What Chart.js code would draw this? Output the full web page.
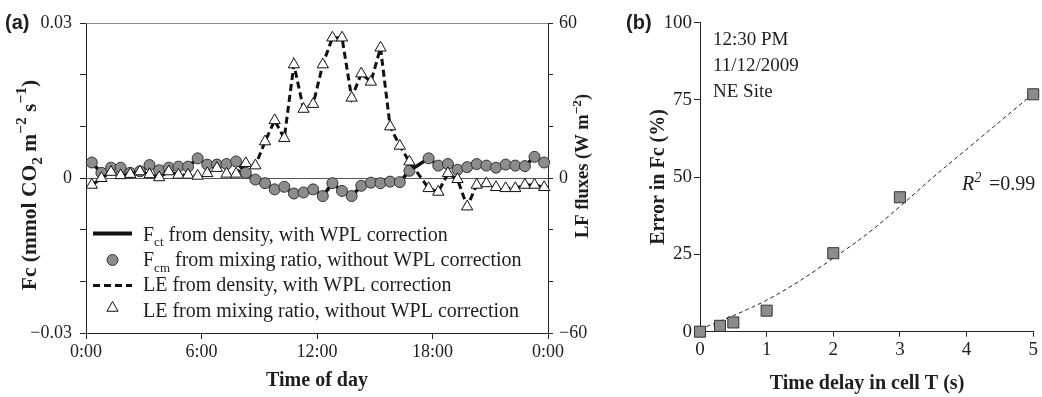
<!DOCTYPE html>
<html><head><meta charset="utf-8">
<script src="https://cdn.jsdelivr.net/npm/chart.js@4.4.0/dist/chart.umd.min.js"></script>
<style>
html,body{margin:0;padding:0;background:#fff;}
#wrap{position:relative;width:1042px;height:397px;overflow:hidden;background:#fff;}
canvas{position:absolute;top:0;}
#ca{left:0;} #cb{left:600px;}
</style></head><body>
<div id="wrap"><canvas id="ca" width="600" height="397"></canvas><canvas id="cb" width="442" height="397"></canvas></div>
<script>
// ---------- Panel (a) data ----------
const hours = [0.3,0.8,1.3,1.8,2.3,2.8,3.3,3.8,4.3,4.8,5.3,5.8,6.3,6.8,7.3,7.8,8.3,8.8,9.3,9.8,10.3,10.8,11.3,11.8,
               12.3,12.8,13.3,13.8,14.3,14.8,15.3,15.8,16.3,16.8,17.3,17.8,18.3,18.8,19.3,19.8,20.3,20.8,21.3,21.8,22.3,22.8,23.3,23.8];
const fcDensity = [0.0030,0.0010,0.0020,0.0020,0.0010,0.0013,0.0025,0.0015,0.0020,0.0022,0.0022,0.0038,
                   0.0026,0.0026,0.0027,0.0032,0.0010,-0.0003,-0.0010,-0.0022,-0.0017,-0.0030,-0.0028,-0.0022,
                   -0.0035,-0.0010,-0.0025,-0.0035,-0.0015,-0.0009,-0.0010,-0.0007,-0.0008,0.0014,null,0.0038,
                   0.0024,0.0027,0.0016,0.0021,0.0027,0.0024,0.0020,0.0026,0.0024,0.0023,0.0041,0.0030];
const fcMixing = [0.0030,0.0010,0.0020,0.0020,0.0010,0.0013,0.0025,0.0015,0.0020,0.0022,0.0022,0.0038,
                  0.0026,0.0026,0.0027,0.0032,0.0010,-0.0003,-0.0010,-0.0022,-0.0017,-0.0030,-0.0028,-0.0022,
                  -0.0035,-0.0010,-0.0025,-0.0035,-0.0015,-0.0009,-0.0010,-0.0007,-0.0008,0.0014,null,0.0038,
                  0.0024,0.0027,0.0016,0.0021,0.0027,0.0024,0.0020,0.0026,0.0024,0.0023,0.0041,0.0030];
const leDensity = [-2.7,-0.1,2.3,1.0,1.5,2.5,1.4,0.2,2.5,1.2,1.2,0.8,
                   1.8,3.8,1.6,1.6,5.7,4.8,14.1,22.3,15.4,43.9,26.7,28.6,
                   43.9,54.3,54.3,31.0,40.4,37.2,50.4,19.9,12.4,6.3,null,-4.0,
                   -5.4,1.8,-0.5,-11.1,-2.7,-2.1,-3.6,-4.0,-4.0,-2.7,-2.7,-3.6];
const leMixing = [-2.7,-0.1,2.3,1.0,1.5,2.5,1.4,0.2,2.5,1.2,1.2,0.8,
                  1.8,3.8,1.6,1.6,5.7,4.8,14.1,22.3,15.4,43.9,26.7,28.6,
                  43.9,54.3,54.3,31.0,40.4,37.2,50.4,19.9,12.4,6.3,null,-4.0,
                  -5.4,1.8,-0.5,-11.1,-2.7,-2.1,-3.6,-4.0,-4.0,-2.7,-2.7,-3.6];
const xTickValuesA = [0,6,12,18,24];
const xTickLabelsA = ['0:00','6:00','12:00','18:00','0:00'];
const yLeftTickValues = [-0.03,0,0.03];
const yLeftTickLabels = ['\u22120.03','0','0.03'];
const yRightTickValues = [-60,0,60];
const yRightTickLabels = ['\u221260','0','60'];

// ---------- Panel (b) data ----------
const delaySec = [0,0.3,0.5,1,2,3,5];
const errorPct = [0,1.9,3.0,6.8,25.4,43.5,76.8];
const fitSec = [0,0.5,1,1.5,2,2.5,3,3.5,4,4.5,5];
const fitPct = [0.8,5.2,10.2,16.5,23.8,31.5,40.5,50,59,68,77];
const yTickValuesB = [0,25,50,75,100];
const xTickValuesB = [0,1,2,3,4,5];

const SERIF = '"Liberation Serif","Times New Roman",serif';
const SANS = '"Liberation Sans",Arial,sans-serif';
const TXT = '#1e1e1e';

function pairs(xs, ys){ return xs.map((x,i)=>({x:x, y:ys[i]})); }
function near(v, arr){ return arr.findIndex(a=>Math.abs(a-v)<1e-9); }

function richWidth(ctx, parts, size, style, sc){
  let w=0;
  for(const p of parts){ const s=p[1]?size*sc:size; ctx.font=`${style} ${s}px ${SERIF}`; w+=ctx.measureText(p[0]).width; }
  return w;
}
function drawRich(ctx, parts, x, y, size, style, align, sc){
  sc = sc || 0.65;
  const w=richWidth(ctx, parts, size, style, sc);
  let cx = align==='center' ? x-w/2 : x;
  ctx.textAlign='left'; ctx.textBaseline='alphabetic'; ctx.fillStyle=TXT;
  for(const p of parts){
    const s=p[1]?size*sc:size;
    ctx.font=`${style} ${s}px ${SERIF}`;
    const dy = p[1]===1 ? size*0.28 : (p[1]===2 ? -size*0.42 : 0);
    ctx.fillText(p[0], cx, y+dy);
    cx += ctx.measureText(p[0]).width;
  }
}
function drawVertical(ctx, parts, cx, cy, size, style, sc){
  ctx.save(); ctx.translate(cx, cy); ctx.rotate(-Math.PI/2);
  drawRich(ctx, parts, 0, size*0.35, size, style, 'center', sc);
  ctx.restore();
}

const tickFont = {family: SERIF, size: 18};

// ---------- Chart (a) ----------
const annotA = {
  id:'annotA',
  beforeDatasetsDraw(chart){
    const ctx=chart.ctx, a=chart.chartArea, y=chart.scales.y;
    ctx.save();
    ctx.strokeStyle='#8a8a8a'; ctx.lineWidth=1;
    ctx.beginPath(); ctx.moveTo(a.left, a.top+0.5); ctx.lineTo(a.right, a.top+0.5); ctx.stroke();
    const y0=Math.round(y.getPixelForValue(0))+0.5;
    ctx.strokeStyle='#555';
    ctx.beginPath(); ctx.moveTo(a.left, y0); ctx.lineTo(a.right, y0); ctx.stroke();
    ctx.restore();
  },
  afterDraw(chart){
    const ctx=chart.ctx;
    ctx.save();
    ctx.font=`bold 20px ${SANS}`; ctx.fillStyle=TXT; ctx.textAlign='left'; ctx.textBaseline='alphabetic';
    ctx.fillText('(a)', 5, 29);
    drawVertical(ctx, [['Fc (mmol CO',0],['2',1],[' m',0],['\u22122',2],[' s',0],['\u22121',2],[')',0]], 28, 185, 21.5, 'bold', 0.72);
    drawVertical(ctx, [['LF fluxes (W m',0],['\u22122',2],[')',0]], 582, 166, 18.5, 'bold', 0.72);
    drawRich(ctx, [['Time of day',0]], 317, 386, 20, 'bold', 'center');
    const lx0=93, lx1=132, tx=143;
    ctx.strokeStyle='#111';
    ctx.lineWidth=4; ctx.setLineDash([]);
    ctx.beginPath(); ctx.moveTo(lx0,233.5); ctx.lineTo(lx1,233.5); ctx.stroke();
    drawRich(ctx, [['F',0],['ct',1],[' from density, with WPL correction',0]], tx, 240.5, 20, '', 'left');
    ctx.beginPath(); ctx.arc(112.5,260,5.5,0,Math.PI*2); ctx.fillStyle='#8c8c8c'; ctx.fill();
    ctx.lineWidth=1; ctx.strokeStyle='#333'; ctx.stroke();
    drawRich(ctx, [['F',0],['cm',1],[' from mixing ratio, without WPL correction',0]], tx, 266, 20, '', 'left');
    ctx.strokeStyle='#111'; ctx.lineWidth=3; ctx.setLineDash([7,4]);
    ctx.beginPath(); ctx.moveTo(lx0,285.5); ctx.lineTo(lx1,285.5); ctx.stroke();
    ctx.setLineDash([]);
    drawRich(ctx, [['LE from density, with WPL correction',0]], tx, 291, 20, '', 'left');
    const r=6.5, cx=112.5, cy=308;
    ctx.beginPath(); ctx.moveTo(cx, cy-r); ctx.lineTo(cx+r*0.866, cy+r/2); ctx.lineTo(cx-r*0.866, cy+r/2); ctx.closePath();
    ctx.fillStyle='#fff'; ctx.fill(); ctx.lineWidth=1; ctx.strokeStyle='#111'; ctx.stroke();
    drawRich(ctx, [['LE from mixing ratio, without WPL correction',0]], tx, 316.5, 20, '', 'left');
    ctx.restore();
  }
};

new Chart(document.getElementById('ca'), {
  type:'line',
  data:{datasets:[
    {label:'Fct', data:pairs(hours, fcDensity), yAxisID:'y', borderColor:'#111', borderWidth:3.5, pointRadius:0, spanGaps:true, order:4, clip:false},
    {label:'Fcm', data:pairs(hours, fcMixing), yAxisID:'y', showLine:false, pointStyle:'circle', pointRadius:5.5,
      pointBackgroundColor:'#8c8c8c', pointBorderColor:'#333', pointBorderWidth:1, order:3, clip:false},
    {label:'LE density', data:pairs(hours, leDensity), yAxisID:'y2', borderColor:'#111', borderWidth:3, borderDash:[7,4], pointRadius:0, spanGaps:true, order:2, clip:false},
    {label:'LE mixing', data:pairs(hours, leMixing), yAxisID:'y2', showLine:false, pointStyle:'triangle', pointRadius:6.5,
      pointBackgroundColor:'#fff', pointBorderColor:'#111', pointBorderWidth:1, order:1, clip:false}
  ]},
  options:{
    responsive:false, animation:false, events:[],
    layout:{padding:{top:23, right:0, left:0, bottom:0}},
    plugins:{legend:{display:false}, tooltip:{enabled:false}},
    scales:{
      x:{type:'linear', min:0, max:24,
        afterBuildTicks(s){ s.ticks = xTickValuesA.map(v=>({value:v})); },
        ticks:{font:tickFont, color:TXT, padding:2, maxRotation:0, autoSkip:false,
          callback:(v)=>{const i=near(v,xTickValuesA); return i<0?'':xTickLabelsA[i];}},
        grid:{drawOnChartArea:false, drawTicks:true, tickLength:6, color:'#222'},
        border:{display:true, color:'#222', width:1},
        afterFit(s){ s.height=64; }},
      y:{type:'linear', position:'left', min:-0.03, max:0.03,
        afterBuildTicks(s){ s.ticks = [-0.03,-0.02,-0.01,0,0.01,0.02,0.03].map(v=>({value:v})); },
        ticks:{font:tickFont, color:TXT, padding:8, autoSkip:false,
          callback:(v)=>{const i=near(v,yLeftTickValues); return i<0?'':yLeftTickLabels[i];}},
        grid:{drawOnChartArea:false, drawTicks:true, tickLength:6, color:'#222'},
        border:{display:true, color:'#222', width:1},
        afterFit(s){ s.width=86; }},
      y2:{type:'linear', position:'right', min:-60, max:60,
        afterBuildTicks(s){ s.ticks = [-60,-40,-20,0,20,40,60].map(v=>({value:v})); },
        ticks:{font:tickFont, color:TXT, padding:6, autoSkip:false,
          callback:(v)=>{const i=near(v,yRightTickValues); return i<0?'':yRightTickLabels[i];}},
        grid:{drawOnChartArea:false, drawTicks:true, tickLength:5, color:'#222'},
        border:{display:true, color:'#222', width:1},
        afterFit(s){ s.width=52; }}
    }
  },
  plugins:[annotA]
});

// ---------- Chart (b) ----------
const annotB = {
  id:'annotB',
  afterDraw(chart){
    const ctx=chart.ctx;
    ctx.save();
    ctx.font=`bold 20px ${SANS}`; ctx.fillStyle=TXT; ctx.textAlign='left'; ctx.textBaseline='alphabetic';
    ctx.fillText('(b)', 26, 29);
    drawVertical(ctx, [['Error in Fc (%)',0]], 57, 177, 20, 'bold');
    drawRich(ctx, [['Time delay in cell T (s)',0]], 267, 389, 20, 'bold', 'center');
    drawRich(ctx, [['12:30 PM',0]], 113, 45, 19, '', 'left');
    drawRich(ctx, [['11/12/2009',0]], 113, 71, 19, '', 'left');
    drawRich(ctx, [['NE Site',0]], 113, 96.5, 19, '', 'left');
    drawRich(ctx, [['R',0],['2',2]], 362, 190, 20, 'italic', 'left', 0.72);
    ctx.font=`20px ${SERIF}`; ctx.fillStyle=TXT; ctx.textAlign='left';
    ctx.fillText('=0.99', 389, 190);
    ctx.restore();
  }
};

new Chart(document.getElementById('cb'), {
  type:'line',
  data:{datasets:[
    {label:'fit', data:pairs(fitSec, fitPct), borderColor:'#222', borderWidth:1, borderDash:[4,3], pointRadius:0,
      cubicInterpolationMode:'monotone', order:2, clip:false},
    {label:'error', data:pairs(delaySec, errorPct), showLine:false, pointStyle:'rect', pointRadius:7.8,
      pointBackgroundColor:'#8c8c8c', pointBorderColor:'#333', pointBorderWidth:1, order:1, clip:false}
  ]},
  options:{
    responsive:false, animation:false, events:[],
    layout:{padding:{top:22.6, right:5.3, left:0, bottom:0}},
    plugins:{legend:{display:false}, tooltip:{enabled:false}},
    scales:{
      x:{type:'linear', min:0, max:5,
        afterBuildTicks(s){ s.ticks = xTickValuesB.map(v=>({value:v})); },
        ticks:{font:{family:SERIF,size:19}, color:TXT, padding:2, maxRotation:0, autoSkip:false},
        grid:{drawOnChartArea:false, drawTicks:true, tickLength:5, color:'#222'},
        border:{display:true, color:'#222', width:1},
        afterFit(s){ s.height=65.3; }},
      y:{type:'linear', min:0, max:100,
        afterBuildTicks(s){ s.ticks = yTickValuesB.map(v=>({value:v})); },
        ticks:{font:{family:SERIF,size:19}, color:TXT, padding:2, autoSkip:false},
        grid:{drawOnChartArea:false, drawTicks:true, tickLength:6, color:'#222'},
        border:{display:true, color:'#222', width:1},
        afterFit(s){ s.width=100; }}
    }
  },
  plugins:[annotB]
});
</script>
</body></html>
